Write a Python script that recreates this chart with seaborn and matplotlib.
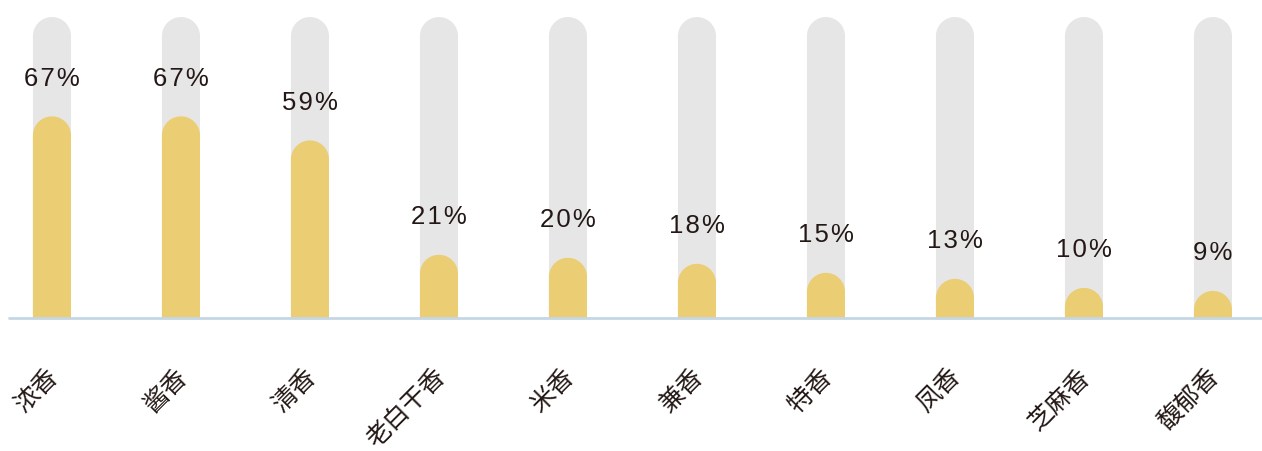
import numpy as np
import pandas as pd
import matplotlib
matplotlib.use("Agg")
import matplotlib.pyplot as plt
from matplotlib.path import Path
from matplotlib.patches import PathPatch
import seaborn as sns

categories = ["浓香", "酱香", "清香", "老白干香", "米香", "兼香", "特香", "凤香", "芝麻香", "馥郁香"]
values = [67, 67, 59, 21, 20, 18, 15, 13, 10, 9]
track = [100] * len(categories)
value_labels = [f"{v}%" for v in values]

sns.set_theme(style="white")
plt.rcParams["font.family"] = ["Noto Sans CJK SC", "DejaVu Sans"]

GRAY = "#e6e6e6"
YELLOW = "#ebce73"
TEXT = "#231815"
AXIS = "#c5d6e5"

fig = plt.figure(figsize=(12.62, 4.52), dpi=100)
ax = fig.add_axes([9 / 1262, (452 - 319) / 452, 1254 / 1262, 319 / 452])

df = pd.DataFrame({"cat": categories, "val": values, "track": track})
BW = 0.295
sns.barplot(data=df, x="cat", y="track", order=categories, color=GRAY,
            saturation=1, width=BW, ax=ax, zorder=1)
n_track = len(ax.patches)
sns.barplot(data=df, x="cat", y="val", order=categories, color=YELLOW,
            saturation=1, width=BW, ax=ax, zorder=2)

ax.set_xlim(-0.333, 9.388)
ax.set_ylim(0, 106)

# px per data unit
ax_w_px = 1254
ax_h_px = 319
px_x = ax_w_px / (9.388 + 0.333)
px_y = ax_h_px / 106.0

patches = list(ax.patches)
for k, p in enumerate(patches):
    x0 = p.get_x()
    w = p.get_width()
    h = p.get_height()
    rx = w / 2
    ry = rx * px_x / px_y
    cx = x0 + rx
    th = np.linspace(np.pi, 0, 60)
    verts = [(x0, 0), (x0, h - ry)]
    verts += [(cx + rx * np.cos(t), h - ry + ry * np.sin(t)) for t in th]
    verts += [(x0 + w, 0), (x0, 0)]
    codes = [Path.MOVETO] + [Path.LINETO] * (len(verts) - 2) + [Path.CLOSEPOLY]
    newp = PathPatch(Path(verts, codes), facecolor=p.get_facecolor(),
                     edgecolor="none", zorder=1 if k < n_track else 2)
    p.set_visible(False)
    ax.add_patch(newp)

ax.axhline(0, color=AXIS, lw=2, zorder=3, clip_on=False)

for i, (v, lab) in enumerate(zip(values, value_labels)):
    spaced = "\u200a".join(lab)
    ax.text(i, v + 12.8, spaced, ha="center", va="center", fontsize=18.5,
            color=TEXT, family=["Liberation Sans", "DejaVu Sans"], zorder=4)

ax.set_xticks([])
ax.set_yticks([])
ax.set_xlabel("")
ax.set_ylabel("")
for s in ax.spines.values():
    s.set_visible(False)

trans = ax.get_xaxis_transform()
for i, c in enumerate(categories):
    ax.text(i - 7 / px_x, -45 / ax_h_px, c, rotation=45, rotation_mode="anchor",
            ha="right", va="top", fontsize=18, color=TEXT, transform=trans,
            clip_on=False)

fig.savefig("out.png", dpi=100)
